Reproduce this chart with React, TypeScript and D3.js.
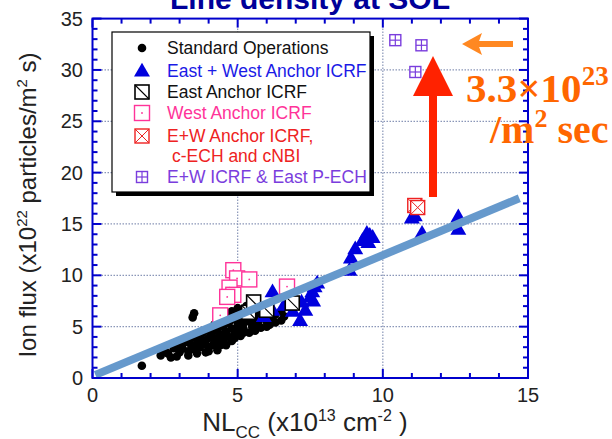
import React from 'react';
import * as d3 from 'd3';

// data (x: NLcc 1e13 cm^-2, y: ion flux 1e22 /m2 s)
const stdOps: [number, number][] = [
  [1.7, 1.2], [2.35, 2.2], [2.7, 2.0], [3.0, 2.5], [3.1, 2.9], [3.3, 2.6], [3.4, 3.2], [3.5, 2.8],
  [3.6, 3.4], [3.7, 3.0], [3.8, 3.7], [3.9, 3.3], [3.5, 6.3], [3.45, 5.9], [4.0, 3.9], [4.0, 3.0],
  [4.1, 4.2], [4.2, 3.5], [4.3, 4.6], [4.3, 3.9], [4.4, 4.2], [4.5, 5.0], [4.5, 3.6], [4.6, 4.5],
  [4.7, 4.0], [4.7, 5.4], [4.8, 4.8], [4.9, 4.3], [4.9, 5.7], [5.0, 5.1], [5.0, 4.6], [5.1, 5.9],
  [5.2, 5.3], [5.2, 4.8], [5.3, 6.2], [5.4, 5.5], [5.5, 5.0], [5.5, 6.0], [5.6, 5.7], [5.7, 5.3],
  [5.8, 6.2], [5.9, 5.8], [6.0, 5.5], [6.1, 6.3], [6.2, 5.9], [4.2, 5.2], [4.4, 5.6], [3.8, 4.4],
  [4.1, 4.8], [3.6, 4.0], [4.6, 6.0], [4.8, 6.5], [5.0, 6.8], [5.3, 7.0], [4.0, 2.6], [3.3, 2.2],
  [2.9, 2.1], [4.4, 3.2], [4.9, 3.9], [5.4, 4.4], [5.8, 4.9], [6.3, 5.4], [6.5, 5.6], [3.6, 2.4],
  [4.3, 2.7], [3.9, 2.5], [4.6, 3.2], [5.1, 4.1], [5.6, 4.6], [6.0, 5.0],
  [2.5, 2.6], [2.8, 2.9], [3.2, 3.5], [3.4, 3.9], [3.7, 4.3], [4.0, 4.6], [4.3, 5.0], [4.6, 5.3],
  [5.0, 5.5], [5.3, 5.7], [5.6, 6.3], [5.9, 6.6], [6.3, 6.2], [6.5, 6.5], [4.15, 3.2], [4.5, 4.2],
  [4.8, 3.6], [5.2, 4.4], [5.7, 5.0], [6.1, 5.2], [6.6, 6.0], [3.0, 3.2], [2.6, 2.4],
];
const ewAnchor: [number, number][] = [
  [5.9, 6.0], [6.2, 6.6], [6.2, 8.4], [6.6, 7.1], [6.9, 6.5], [7.15, 5.6], [7.33, 6.6], [7.2, 7.4],
  [7.5, 7.9], [7.57, 8.4], [7.6, 7.5], [7.74, 9.25], [7.65, 8.9], [8.85, 10.5], [8.9, 11.7],
  [9.05, 12.6], [9.3, 13.4], [9.45, 14.1], [9.55, 13.9], [9.65, 13.7], [9.5, 13.2], [11.0, 15.6],
  [11.1, 15.8], [11.35, 14.1], [12.6, 15.7], [12.6, 14.5],
];
const eastAnchor: [number, number][] = [[5.38, 6.4], [5.55, 7.4], [6.0, 6.6], [6.88, 7.3]];
const westAnchor: [number, number][] = [
  [4.85, 10.5], [4.98, 9.7], [5.4, 9.6], [4.72, 8.8], [4.85, 8.1], [4.64, 7.9], [4.4, 6.1], [6.7, 8.9],
];
const ewEchNbi: [number, number][] = [[11.1, 16.8], [11.2, 16.6]];
const ewPech: [number, number][] = [[10.43, 32.9], [11.33, 32.4], [11.12, 29.8]];
const fitLine: [number, number][] = [[0.1, 0.3], [14.7, 17.5]];

const xTicks = [0, 5, 10, 15];
const yTicks = [0, 5, 10, 15, 20, 25, 30, 35];

const legendItems = [
  { kind: 'dot', label: 'Standard Operations', color: '#111111', indent: 0 },
  { kind: 'tri', label: 'East + West Anchor ICRF', color: '#1a1ae6', indent: 0 },
  { kind: 'east', label: 'East Anchor ICRF', color: '#111111', indent: 0 },
  { kind: 'west', label: 'West Anchor ICRF', color: '#ff3399', indent: 0 },
  { kind: 'ew', label: 'E+W Anchor ICRF,', color: '#ee2222', indent: 0 },
  { kind: 'none', label: 'c-ECH and cNBI', color: '#ee2222', indent: 5 },
  { kind: 'pech', label: 'E+W ICRF & East P-ECH', color: '#7a3ddd', indent: 0 },
];

const AXIS = '#0000cc';

function Marker({ kind, x, y }: { kind: string; x: number; y: number }) {
  if (kind === 'dot') return <circle cx={x} cy={y} r={4.3} fill="#000" />;
  if (kind === 'tri') {
    const p = d3.symbol(d3.symbolTriangle, 110)();
    return <path d={p || ''} transform={`translate(${x},${y + 1})`} fill="#0000dd" />;
  }
  if (kind === 'east') {
    const h = 7;
    return (
      <g>
        <rect x={x - h} y={y - h} width={2 * h} height={2 * h} fill="#fff" stroke="#000" strokeWidth={1.6} />
        <line x1={x - h} y1={y - h} x2={x + h} y2={y + h} stroke="#000" strokeWidth={1.1} />
      </g>
    );
  }
  if (kind === 'west') {
    const h = 7.5;
    return (
      <g>
        <rect x={x - h} y={y - h} width={2 * h} height={2 * h} fill="#fff" stroke="#ff3399" strokeWidth={1.4} />
        <circle cx={x} cy={y} r={0.9} fill="#ff3399" />
      </g>
    );
  }
  if (kind === 'ew') {
    const h = 7;
    return (
      <g>
        <rect x={x - h} y={y - h} width={2 * h} height={2 * h} fill="#fff" stroke="#ee2222" strokeWidth={1.4} />
        <line x1={x - h} y1={y - h} x2={x + h} y2={y + h} stroke="#ee2222" strokeWidth={1} />
        <line x1={x - h} y1={y + h} x2={x + h} y2={y - h} stroke="#ee2222" strokeWidth={1} />
      </g>
    );
  }
  if (kind === 'pech') {
    const h = 5.5;
    return (
      <g>
        <rect x={x - h} y={y - h} width={2 * h} height={2 * h} fill="#fff" stroke="#7a3ddd" strokeWidth={1.4} />
        <line x1={x} y1={y - h} x2={x} y2={y + h} stroke="#7a3ddd" strokeWidth={1.2} />
        <line x1={x - h} y1={y} x2={x + h} y2={y} stroke="#7a3ddd" strokeWidth={1.2} />
      </g>
    );
  }
  return null;
}

export default function App() {
  const width = 612;
  const height = 439;
  const x = d3.scaleLinear().domain([0, 15]).range([92.5, 528]);
  const y = d3.scaleLinear().domain([0, 35]).range([378, 18.6]);
  const x0 = x(0), x1 = x(15), y0 = y(0), y1 = y(35);
  const minorX = d3.range(0, 16, 1);
  const minorY = d3.range(0, 36, 1);
  const line = d3.line<[number, number]>().x(d => x(d[0])).y(d => y(d[1]));
  const font = 'Liberation Sans, Arial, sans-serif';
  const serif = 'Liberation Serif, Times New Roman, serif';

  return (
    <svg width={width} height={height} style={{ position: 'absolute', left: 0, top: 0, background: '#fff' }}>
      {/* title, clipped by the top edge */}
      <text x={310} y={9} textAnchor="middle" fontFamily={font} fontWeight="bold" fontSize={30} fill="#000099">
        Line density at SOL
      </text>

      {/* grid */}
      {xTicks.slice(1, -1).map(t => (
        <line key={'gx' + t} x1={x(t)} x2={x(t)} y1={y0} y2={y1} stroke="#8a96b8" strokeWidth={1.2} strokeDasharray="1.5,1.5" />
      ))}
      {yTicks.slice(1, -1).map(t => (
        <line key={'gy' + t} x1={x0} x2={x1} y1={y(t)} y2={y(t)} stroke="#8a96b8" strokeWidth={1.2} strokeDasharray="1.5,1.5" />
      ))}

      {/* markers */}
      {stdOps.map((d, i) => <Marker key={'s' + i} kind="dot" x={x(d[0])} y={y(d[1])} />)}
      {westAnchor.map((d, i) => <Marker key={'w' + i} kind="west" x={x(d[0])} y={y(d[1])} />)}
      {ewAnchor.map((d, i) => <Marker key={'t' + i} kind="tri" x={x(d[0])} y={y(d[1])} />)}
      {eastAnchor.map((d, i) => <Marker key={'e' + i} kind="east" x={x(d[0])} y={y(d[1])} />)}
      {ewEchNbi.map((d, i) => <Marker key={'r' + i} kind="ew" x={x(d[0])} y={y(d[1])} />)}
      {ewPech.map((d, i) => <Marker key={'p' + i} kind="pech" x={x(d[0])} y={y(d[1])} />)}

      {/* fit line */}
      <path d={line(fitLine) || ''} stroke="#6699cc" strokeWidth={8} fill="none" />

      {/* axes frame and ticks */}
      <rect x={x0} y={y1} width={x1 - x0} height={y0 - y1} fill="none" stroke={AXIS} strokeWidth={2} />
      {minorX.map(t => {
        const len = t % 5 === 0 ? 9 : 5;
        return (
          <g key={'tx' + t}>
            <line x1={x(t)} x2={x(t)} y1={y0} y2={y0 - len} stroke={AXIS} strokeWidth={2} />
            <line x1={x(t)} x2={x(t)} y1={y1} y2={y1 + len} stroke={AXIS} strokeWidth={2} />
          </g>
        );
      })}
      {minorY.map(t => {
        const len = t % 5 === 0 ? 9 : 5;
        return (
          <g key={'ty' + t}>
            <line x1={x0} x2={x0 + len} y1={y(t)} y2={y(t)} stroke={AXIS} strokeWidth={2} />
            <line x1={x1} x2={x1 - len} y1={y(t)} y2={y(t)} stroke={AXIS} strokeWidth={2} />
          </g>
        );
      })}

      {/* tick labels */}
      {xTicks.map(t => (
        <text key={'lx' + t} x={x(t)} y={402} textAnchor="middle" fontFamily={font} fontSize={20} fill="#222">{t}</text>
      ))}
      {yTicks.map(t => (
        <text key={'ly' + t} x={83} y={y(t) + 7} textAnchor="end" fontFamily={font} fontSize={20} fill="#222">{t}</text>
      ))}

      {/* axis titles */}
      <text x={305} y={431} textAnchor="middle" fontFamily={font} fontSize={26} fill="#222">
        NL<tspan fontSize={17} dy={7}>CC</tspan>
        <tspan dy={-7}> (x10</tspan><tspan fontSize={16} dy={-10}>13</tspan>
        <tspan dy={10}> cm</tspan><tspan fontSize={16} dy={-10}>-2</tspan><tspan dy={10}> )</tspan>
      </text>
      <text transform="translate(36,205) rotate(-90)" textAnchor="middle" fontFamily={font} fontSize={24} fill="#222">
        Ion flux (x10<tspan fontSize={15} dy={-9}>22</tspan>
        <tspan dy={9}> particles/m</tspan><tspan fontSize={15} dy={-9}>2</tspan><tspan dy={9}> s)</tspan>
      </text>

      {/* legend */}
      <rect x={116} y={36} width={258} height={160} fill="#000" />
      <rect x={112} y={32} width={258} height={160} fill="#fff" stroke="#000" strokeWidth={1.2} />
      {legendItems.map((it, i) => {
        const ys = [48, 71, 92, 113, 136, 156, 177][i];
        return (
          <g key={'lg' + i}>
            {it.kind !== 'none' && <Marker kind={it.kind} x={142} y={ys} />}
            <text x={167 + it.indent} y={ys + 6} fontFamily={font} fontSize={17.5} fill={it.color}>{it.label}</text>
          </g>
        );
      })}

      {/* annotations */}
      <line x1={433} x2={433} y1={197} y2={90} stroke="#ff2200" strokeWidth={8} />
      <path d="M413,96 L433,56 L453,96 Z" fill="#ff2200" />
      <line x1={513} x2={475} y1={44} y2={44} stroke="#ff8822" strokeWidth={6} />
      <path d="M462,44 L482,33 L478,44 L482,55 Z" fill="#ff8822" />
      <text x={466} y={102} fontFamily={serif} fontWeight="bold" fontSize={41} fill="#ff6600">
        3.3×10<tspan fontSize={27} dy={-17}>23</tspan>
      </text>
      <text x={490} y={143} fontFamily={serif} fontWeight="bold" fontSize={40} fill="#ff6600">
        /m<tspan fontSize={26} dy={-16}>2</tspan><tspan dy={16}> sec</tspan>
      </text>
    </svg>
  );
}
